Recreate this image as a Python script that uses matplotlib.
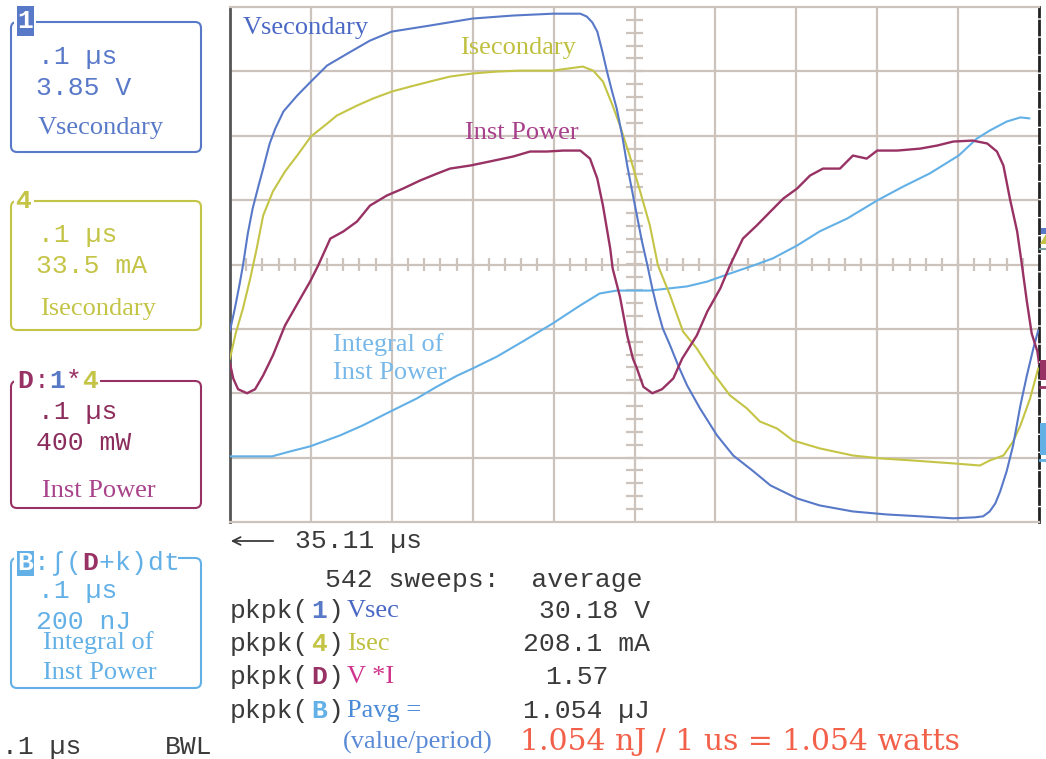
import numpy as np
import matplotlib.pyplot as plt
from matplotlib.patches import FancyBboxPatch, Rectangle, Polygon

# scope capture, 0.1 us/div over 10 div -> time in ns
vsec_t = [0, 6, 12, 16, 22, 28, 35, 41, 49, 56, 66, 83, 100, 120, 145, 173, 200, 247, 300, 350,
          399, 433, 441, 448, 454, 460, 466, 472, 478, 485, 491, 497, 503, 509, 516, 522, 528, 535, 544, 554,
          565, 581, 602, 622, 647, 668, 701, 729, 770, 812, 853, 894, 921, 931, 939, 946, 952, 960, 968, 977,
          985, 993, 999]
vsec_v = [-3.95, -2.63, -1.14, -0.06, 1.85, 3.35, 4.66, 5.74, 7.23, 8.13, 9.15, 10.10, 10.94, 11.90, 12.61, 13.39, 13.93, 14.29, 14.71, 14.89,
          15.00, 15.00, 14.83, 14.47, 13.93, 12.79, 11.54, 10.40, 9.33, 7.65, 5.92, 4.42, 2.93, 1.43, -0.06, -1.43, -2.63, -3.83, -4.84, -6.04,
          -7.23, -8.61, -10.22, -11.42, -12.37, -13.21, -13.99, -14.41, -14.77, -14.95, -15.06, -15.18, -15.12, -15.06, -14.77, -14.29, -13.57, -12.37, -10.82, -8.43,
          -6.64, -5.02, -3.95]

isec_t = [0, 7, 16, 25, 33, 41, 53, 68, 83, 100, 120, 132, 157, 177, 200, 223, 247, 272, 300, 330,
          359, 399, 436, 449, 461, 473, 482, 494, 507, 519, 529, 544, 560, 577, 593, 618, 639, 655, 676, 696,
          729, 770, 804, 844, 894, 927, 939, 956, 968, 977, 989, 999]
isec_ma = [-48.9, -35.9, -22.9, -7.3, 8.3, 25.5, 38.0, 48.4, 56.7, 66.6, 73.3, 77.5, 82.7, 86.4, 90.0, 92.6, 95.2, 97.8, 99.4, 100.4,
           100.9, 100.9, 103.0, 100.9, 95.2, 82.7, 72.3, 56.7, 38.0, 20.3, -0.5, -16.1, -34.9, -43.7, -54.1, -68.1, -74.9, -81.7, -85.3, -91.6,
           -95.7, -99.4, -100.9, -102.0, -103.5, -104.6, -102.0, -99.4, -92.1, -83.8, -69.7, -54.1]

pwr_t = [0, 4, 10, 21, 31, 41, 53, 68, 87, 99, 109, 124, 140, 157, 173, 194, 214, 235, 256, 272,
         297, 321, 350, 371, 392, 412, 433, 445, 454, 461, 470, 473, 482, 491, 498, 503, 511, 522, 534, 548,
         559, 577, 590, 606, 618, 634, 651, 668, 684, 701, 717, 733, 754, 770, 787, 800, 825, 853, 874, 894,
         918, 936, 948, 956, 964, 973, 979, 985, 991, 998, 1000]
pwr_w = [-0.615, -0.708, -0.775, -0.800, -0.775, -0.689, -0.565, -0.379, -0.211, -0.106, -0.006, 0.161, 0.205, 0.267, 0.366, 0.429, 0.472, 0.522, 0.565, 0.596,
         0.615, 0.640, 0.671, 0.702, 0.702, 0.708, 0.708, 0.658, 0.534, 0.366, 0.099, -0.025, -0.199, -0.441, -0.584, -0.646, -0.760, -0.800, -0.775, -0.708,
         -0.584, -0.441, -0.292, -0.149, -0.006, 0.161, 0.242, 0.329, 0.410, 0.472, 0.553, 0.596, 0.596, 0.677, 0.658, 0.708, 0.708, 0.720, 0.739, 0.764,
         0.770, 0.752, 0.702, 0.615, 0.410, 0.205, -0.006, -0.230, -0.429, -0.540, -0.615]

integ_t = [0, 52, 74, 99, 136, 164, 198, 231, 256, 281, 300, 330, 362, 399, 433, 457, 478, 519, 565, 590,
           618, 647, 671, 701, 729, 763, 800, 832, 865, 901, 923, 939, 960, 977, 988]
integ_nj = [-596, -596, -581, -565, -531, -500, -457, -416, -379, -345, -323, -286, -239, -183, -127, -90, -81, -81, -68, -53,
            -28, -3, 19, 59, 103, 143, 199, 242, 283, 339, 391, 416, 444, 457, 454]

# volts/div etc. from the channel boxes
V_DIV = 3.85
I_DIV = 33.5
P_DIV = 0.400
E_DIV = 200.0

readout_rows = [('1', 'Vsec', '30.18 V'), ('4', 'Isec', '208.1 mA'), ('D', 'V *I', '1.57'), ('B', 'Pavg =', '1.054 µJ')]
pavg_note = '1.054 nJ / 1 us = 1.054 watts'

C_V = '#5878c8'
C_I = '#c4c446'
C_P = '#983264'
C_E = '#62b0e6'
C_GRID = '#ccc4bc'
C_TXT = '#3a3a3a'
C_RED = '#f2604a'

MONO = ['Liberation Mono', 'DejaVu Sans Mono']
SERIF = 'Liberation Serif'
FS = 19

W, H = 1046, 759
fig = plt.figure(figsize=(W / 100, H / 100), dpi=100)

# ---- scope screen
ax = fig.add_axes([230 / W, 1 - 522 / H, 809 / W, 515 / H])
ax.set_xlim(0, 1000)
ax.set_ylim(-4, 4)
ax.set_xticks([])
ax.set_yticks([])
for x in np.arange(100, 1000, 100):
    ax.axvline(x, color=C_GRID, lw=1.6, zorder=1)
for y in np.arange(-3, 4, 1):
    ax.axhline(y, color=C_GRID, lw=1.6, zorder=1)
ax.vlines(np.arange(20, 1000, 20), -0.1, 0.1, color=C_GRID, lw=1.6, zorder=1)
ax.hlines(np.arange(-3.8, 4, 0.2), 489, 511, color=C_GRID, lw=1.6, zorder=1)

for side in ['top', 'bottom']:
    ax.spines[side].set_color(C_GRID)
    ax.spines[side].set_linewidth(1.6)
ax.spines['left'].set_color('#555555')
ax.spines['left'].set_linewidth(2)
ax.spines['right'].set_color('#222222')
ax.spines['right'].set_linewidth(2)
ax.spines['right'].set_linestyle((0, (5, 1.5)))

ax.plot(integ_t, np.array(integ_nj) / E_DIV, color=C_E, lw=1.5, zorder=3)
ax.plot(isec_t, np.array(isec_ma) / I_DIV, color=C_I, lw=1.5, zorder=3)
ax.plot(vsec_t, np.array(vsec_v) / V_DIV, color=C_V, lw=1.5, zorder=4)
ax.plot(pwr_t, np.array(pwr_w) / P_DIV, color=C_P, lw=1.7, zorder=4)

# ---- overlay in pixel units for the readouts
ov = fig.add_axes([0, 0, 1, 1])
ov.set_xlim(0, W)
ov.set_ylim(H, 0)
ov.axis('off')
ov.patch.set_alpha(0)


def mono(x, y, s, color=C_TXT, ha='left', bold=False, size=FS):
    ov.text(x, y, s, color=color, ha=ha, va='center', family=MONO, fontsize=size,
            fontweight='bold' if bold else 'normal')


def serif(x, y, s, color, size=FS):
    ov.text(x, y, s, color=color, ha='left', va='center', family=SERIF, fontsize=size)


# trace labels on the screen
serif(243, 28, 'Vsecondary', '#4a68c4')
serif(460, 48, 'Isecondary', '#c0c040')
serif(465, 133, 'Inst Power', '#a8408c')
serif(333, 345, 'Integral of', '#78b8e8')
serif(333, 373, 'Inst Power', '#78b8e8')


def chbox(y0, y1, color):
    ov.add_patch(FancyBboxPatch((11, y0), 190, y1 - y0, boxstyle='round,pad=0,rounding_size=6',
                                fc='none', ec=color, lw=1.5))


CW = 16.25  # mono cell width in px

# channel 1
chbox(22, 152, C_V)
ov.add_patch(Rectangle((14, 5), 22, 32, fc='white', ec='none'))
ov.add_patch(Rectangle((17, 6), 17, 30, fc=C_V, ec='none'))
mono(25.5, 21, '1', color='white', ha='center', bold=True)
mono(38, 57, '.1 µs', C_V)
mono(36, 88, '3.85 V', C_V)
serif(38, 128, 'Vsecondary', C_V)

# channel 4
chbox(201, 330, C_I)
ov.add_patch(Rectangle((14, 190), 20, 24, fc='white', ec='none'))
mono(23, 201, '4', C_I, ha='center', bold=True)
mono(38, 235, '.1 µs', C_I)
mono(36, 266, '33.5 mA', C_I)
serif(40, 309, 'Isecondary', C_I)

# math D = 1*4
chbox(381, 508, C_P)
ov.add_patch(Rectangle((14, 368), 86, 26, fc='white', ec='none'))
for i, (ch, col, b) in enumerate([('D', C_P, True), (':', C_P, False), ('1', C_V, True),
                                  ('*', C_P, False), ('4', C_I, True)]):
    mono(25 + CW * i, 381, ch, col, ha='center', bold=b)
mono(38, 412, '.1 µs', '#8c2c5c')
mono(36, 443, '400 mW', '#8c2c5c')
serif(42, 491, 'Inst Power', '#a8428a')

# math B = integral of D
chbox(558, 688, C_E)
ov.add_patch(Rectangle((14, 545), 164, 26, fc='white', ec='none'))
ov.add_patch(Rectangle((17, 551), 17, 25, fc=C_E, ec='none'))
for i, ch in enumerate('B:∫(D+k)dt'):
    if i == 0:
        mono(25.5, 563, ch, 'white', ha='center', bold=True)
    elif ch == 'D':
        mono(25 + CW * i, 563, ch, C_P, ha='center', bold=True)
    else:
        mono(25 + CW * i, 563, ch, C_E, ha='center')
mono(38, 591, '.1 µs', C_E)
mono(36, 622, '200 nJ', C_E)
serif(43, 643, 'Integral of', C_E)
serif(43, 673, 'Inst Power', C_E)

# bottom-left status
mono(2, 747, '.1 µs')
mono(165, 747, 'BWL')

# offset markers at right edge
ov.add_patch(Rectangle((1041, 228), 5, 6, fc=C_V, ec='none'))
ov.add_patch(Polygon([[1040, 244], [1046, 234], [1046, 244]], closed=True, fc=C_I, ec='none'))
ov.plot([1040, 1046], [249, 249], color='#7aa0a0', lw=1.5)
ov.add_patch(Rectangle((1040, 360), 6, 20, fc=C_P, ec='none'))
ov.plot([1040, 1046], [387, 387], color=C_P, lw=2)
ov.add_patch(Rectangle((1040, 423), 6, 32, fc=C_E, ec='none'))
ov.plot([1040, 1046], [460, 460], color=C_E, lw=2)

# trigger delay
ov.annotate('', xy=(228, 541), xytext=(276, 541),
            arrowprops=dict(arrowstyle='->', color=C_TXT, lw=1.3, mutation_scale=14))
mono(295, 541, '35.11 µs')

# measurements
mono(325, 580, '542 sweeps:  average')
row_y = [611, 644, 677, 711]
row_col = [(C_V, '#4a68c4'), (C_I, '#c0c040'), (C_P, '#d0338c'), (C_E, '#4a8ad6')]
for (ch, name, val), y, (c_ch, c_name) in zip(readout_rows, row_y, row_col):
    mono(230, y, 'pkpk(')
    mono(230 + CW * 5.5, y, ch, c_ch, ha='center', bold=True)
    mono(230 + CW * 6, y, ')')
    serif(347, y, name, c_name)
    if val == '1.57':
        mono(545, y, val)
    else:
        mono(650, y, val, ha='right')

serif(343, 742, '(value/period)', '#5a8ad6')
ov.text(520, 742, pavg_note, color=C_RED, ha='left', va='center', family='DejaVu Serif', fontsize=21.5)

fig.savefig('out.png', dpi=100)
